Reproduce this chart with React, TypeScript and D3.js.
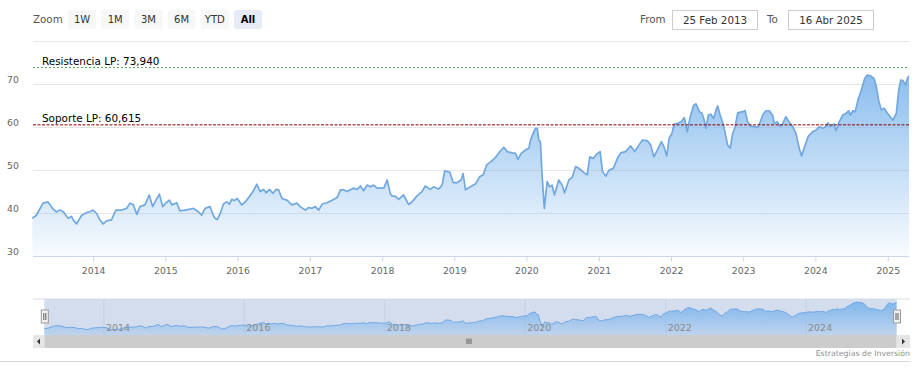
import React from "react";
import * as d3 from "d3";

const priceDates = [
"2013-02-25","2013-03-17","2013-04-20","2013-05-15","2013-06-10","2013-06-27","2013-07-14","2013-07-31","2013-08-25","2013-09-11","2013-09-19","2013-10-07","2013-11-01","2013-11-26","2013-12-13","2013-12-29",
"2014-01-16","2014-02-01","2014-02-18","2014-03-07","2014-04-01","2014-04-23","2014-05-22","2014-06-17","2014-07-03","2014-07-20","2014-08-07","2014-08-23","2014-09-17","2014-10-09","2014-10-26","2014-11-12","2014-11-29","2014-12-16",
"2015-01-02","2015-01-19","2015-01-31","2015-02-25","2015-03-13","2015-04-08","2015-05-03","2015-05-20","2015-06-14","2015-07-01","2015-07-18","2015-08-12","2015-08-29","2015-09-06","2015-09-18","2015-10-02","2015-10-19","2015-11-05","2015-11-18","2015-11-30","2015-12-12","2015-12-28",
"2016-01-20","2016-02-06","2016-02-27","2016-03-16","2016-04-05","2016-04-22","2016-05-09","2016-05-22","2016-06-08","2016-06-25","2016-07-12","2016-07-24","2016-08-10","2016-09-04","2016-09-29","2016-10-25","2016-11-10","2016-12-06","2016-12-23",
"2017-01-09","2017-01-26","2017-02-12","2017-03-01","2017-03-26","2017-04-21","2017-05-16","2017-06-02","2017-06-18","2017-07-05","2017-07-22","2017-08-08","2017-08-25","2017-09-11","2017-09-27","2017-10-14","2017-10-31","2017-11-17","2017-12-04","2017-12-21",
"2018-01-07","2018-01-24","2018-02-10","2018-02-18","2018-03-07","2018-03-23","2018-04-17","2018-05-12","2018-05-30","2018-06-24","2018-07-19","2018-08-05","2018-08-30","2018-09-16","2018-10-12","2018-10-29","2018-11-11","2018-12-07","2018-12-24",
"2019-01-13","2019-02-02","2019-02-12","2019-02-24","2019-03-21","2019-04-16","2019-05-08","2019-05-25","2019-06-11","2019-07-01","2019-07-21","2019-08-04","2019-08-20","2019-09-06","2019-09-23","2019-10-19","2019-11-04","2019-11-16","2019-12-03","2019-12-25",
"2020-01-11","2020-01-19","2020-02-02","2020-02-13","2020-02-22","2020-03-01","2020-03-09","2020-03-18","2020-03-29","2020-04-12","2020-04-25","2020-05-07","2020-05-19","2020-06-10","2020-06-27","2020-07-09","2020-07-31","2020-08-17","2020-09-03","2020-09-20","2020-10-15","2020-11-01","2020-11-14","2020-12-01","2020-12-18",
"2021-01-05","2021-01-17","2021-02-03","2021-02-19","2021-03-13","2021-04-02","2021-04-19","2021-05-14","2021-06-08","2021-06-29","2021-07-20","2021-08-07","2021-09-01","2021-09-18","2021-10-04","2021-10-22","2021-11-11","2021-11-24","2021-12-08","2021-12-20",
"2022-01-03","2022-01-15","2022-02-01","2022-02-18","2022-03-07","2022-03-21","2022-04-06","2022-04-23","2022-05-05","2022-05-22","2022-06-04","2022-06-13","2022-06-24","2022-07-06","2022-07-19","2022-08-02","2022-08-14","2022-08-22","2022-09-04","2022-09-16","2022-09-28","2022-10-12","2022-10-25","2022-11-06","2022-11-18","2022-12-02","2022-12-27",
"2023-01-08","2023-01-21","2023-02-07","2023-02-24","2023-03-13","2023-03-26","2023-04-07","2023-04-23","2023-05-10","2023-05-27","2023-06-04","2023-06-21","2023-07-04","2023-07-16","2023-08-02","2023-08-19","2023-09-05","2023-09-22","2023-10-09","2023-10-21","2023-11-03","2023-11-23","2023-12-15",
"2024-01-02","2024-01-19","2024-02-05","2024-02-22","2024-03-01","2024-03-14","2024-04-01","2024-04-12","2024-04-28","2024-05-16","2024-06-02","2024-06-14","2024-06-24","2024-07-06","2024-07-18","2024-08-01","2024-08-18","2024-09-04","2024-09-17","2024-10-04","2024-10-21","2024-11-02","2024-11-13","2024-11-27","2024-12-11","2024-12-28",
"2025-01-13","2025-01-25","2025-02-11","2025-02-23","2025-03-05","2025-03-17","2025-03-29","2025-04-08","2025-04-16"
];

const priceValues = [
38.9,39.6,42.4,42.7,41.0,40.4,40.8,40.4,38.9,39.3,38.5,37.6,39.6,40.2,40.4,40.8,
40.0,38.5,37.6,38.3,38.5,40.8,40.8,41.2,42.4,42.1,39.8,41.6,42.0,44.3,41.6,43.1,44.5,41.6,
42.5,43.1,42.0,42.5,40.6,40.8,41.0,41.2,40.4,39.6,41.2,41.6,39.6,38.9,38.6,39.9,42.2,42.7,42.2,43.3,43.0,43.5,
42.0,42.7,43.9,45.1,46.8,45.1,45.6,44.8,45.6,44.7,45.6,45.5,43.5,43.1,42.0,42.4,41.6,40.8,41.4,
41.2,41.6,40.8,42.2,42.5,43.1,43.7,45.5,45.5,45.1,45.5,45.9,45.6,46.4,45.3,46.6,46.2,46.6,45.9,45.9,
45.9,47.8,44.5,44.1,44.0,43.3,44.3,42.1,42.7,44.1,45.1,46.4,45.6,46.2,45.7,46.6,49.9,49.6,47.2,
47.2,47.8,49.3,45.5,46.2,46.9,48.6,49.0,51.3,52.0,52.8,53.6,54.6,55.4,54.4,54.1,54.0,52.6,54.0,54.8,
55.2,57.1,58.7,59.8,59.8,57.1,56.7,48.6,41.2,47.4,46.2,46.6,44.3,47.8,46.6,44.8,47.8,48.4,50.9,50.5,49.5,49.0,53.2,52.8,53.8,
54.4,49.7,48.7,50.1,50.5,52.8,54.1,54.4,55.7,54.4,55.9,57.1,56.9,55.9,53.2,54.8,56.7,55.5,53.4,57.5,
58.6,60.8,61.0,61.3,62.3,59.0,62.5,65.2,65.5,63.7,63.3,62.1,59.8,62.9,63.1,62.1,64.1,65.0,62.9,61.3,59.0,55.9,55.2,58.6,60.0,63.4,63.7,
63.9,61.3,60.3,60.2,60.0,61.3,62.9,63.9,63.9,62.9,61.0,61.3,60.3,60.8,62.5,61.3,60.3,58.7,55.2,53.4,55.2,57.9,59.0,
59.4,60.2,59.8,60.3,61.1,60.2,60.8,59.3,61.3,62.9,63.3,63.9,62.9,63.9,63.7,66.4,68.7,71.4,72.2,72.0,71.4,69.5,66.4,64.1,64.5,63.3,
62.4,61.7,63.3,68.7,71.0,70.9,69.9,71.4,72.0
];

const yTicks = [30, 40, 50, 60, 70, 80];
const xTickYears = [2014, 2015, 2016, 2017, 2018, 2019, 2020, 2021, 2022, 2023, 2024, 2025];
const navTickYears = [2014, 2016, 2018, 2020, 2022, 2024];
const rangeButtons = ["1W", "1M", "3M", "6M", "YTD", "All"];
const resistanceValue = 73.94;
const resistanceLabel = "Resistencia LP: 73,940";
const supportValue = 60.615;
const supportLabel = "Soporte LP: 60,615";
const startDate = "2013-02-25";
const endDate = "2025-04-16";
const fromText = "25 Feb 2013";
const toText = "16 Abr 2025";
const creditText = "Estrategias de Inversión";

const FONT = "'DejaVu Sans', Verdana, sans-serif";

export default function App() {
  const parse = d3.timeParse("%Y-%m-%d");
  const data = priceDates.map((d, i) => ({ date: parse(d) as Date, value: priceValues[i] }));
  const x = d3.scaleTime().domain([parse(startDate) as Date, parse(endDate) as Date]).range([32.4, 909]);
  const y = d3.scaleLinear().domain([30, 80]).range([256.5, 41.5]);
  const nx = d3.scaleTime().domain([parse(startDate) as Date, parse(endDate) as Date]).range([44.3, 896.6]);
  const ny = d3.scaleLinear().domain([31, 76.3]).range([335, 299]);

  const line = d3.line<{ date: Date; value: number }>().x(d => x(d.date)).y(d => y(d.value));
  const area = d3.area<{ date: Date; value: number }>().x(d => x(d.date)).y0(y(30)).y1(d => y(d.value));
  const nline = d3.line<{ date: Date; value: number }>().x(d => nx(d.date)).y(d => ny(d.value));
  const narea = d3.area<{ date: Date; value: number }>().x(d => nx(d.date)).y0(335).y1(d => ny(d.value));

  const plotL = 33, plotR = 909;

  return (
    <svg width={919} height={376} style={{ position: "absolute", left: 0, top: 0, background: "#fff" }} fontFamily={FONT}>
      <defs>
        <linearGradient id="mainFill" x1="0" y1="0" x2="0" y2="1">
          <stop offset="0" stopColor="#7cb5ec" stopOpacity={0.88} />
          <stop offset="1" stopColor="#7cb5ec" stopOpacity={0.05} />
        </linearGradient>
        <linearGradient id="navFill" x1="0" y1="0" x2="0" y2="1">
          <stop offset="0" stopColor="#7cb5ec" stopOpacity={0.95} />
          <stop offset="1" stopColor="#7cb5ec" stopOpacity={0.25} />
        </linearGradient>
      </defs>

      {/* range selector */}
      <text x={33} y={23} fontSize={10.3} fill="#555">Zoom</text>
      {rangeButtons.map((b, i) => {
        const bx = 68 + i * 33.2;
        const sel = b === "All";
        return (
          <g key={b}>
            <rect x={bx} y={10} width={28} height={19} rx={2} fill={sel ? "#e6ebf5" : "#f7f7f7"} />
            <text x={bx + 14} y={23} fontSize={10} textAnchor="middle" fill={sel ? "#000" : "#333"} fontWeight={sel ? "bold" : "normal"}>{b}</text>
          </g>
        );
      })}
      <text x={640} y={23} fontSize={10.3} fill="#555">From</text>
      <rect x={672.5} y={10.5} width={85} height={19} fill="#fff" stroke="#cccccc" />
      <text x={715} y={23.5} fontSize={10.3} textAnchor="middle" fill="#333">{fromText}</text>
      <text x={767} y={23} fontSize={10.3} fill="#555">To</text>
      <rect x={788.5} y={10.5} width={85} height={19} fill="#fff" stroke="#cccccc" />
      <text x={831} y={23.5} fontSize={10.3} textAnchor="middle" fill="#333">{toText}</text>

      {/* grid */}
      {yTicks.map(t => (
        <line key={t} x1={plotL} x2={plotR} y1={y(t)} y2={y(t)} stroke="#e6e6e6" strokeWidth={1} />
      ))}
      {yTicks.filter(t => t < 80).map(t => (
        <text key={"yl" + t} x={7} y={y(t) - 1.5} fontSize={9.3} fill="#666">{t}</text>
      ))}

      {/* area + line */}
      <path d={area(data) as string} fill="url(#mainFill)" />
      <path d={line(data) as string} fill="none" stroke="#72a8e0" strokeWidth={1.7} strokeLinejoin="round" />

      {/* x axis */}
      <line x1={plotL} x2={plotR} y1={y(30)} y2={y(30)} stroke="#ccd6eb" />
      {xTickYears.map(yr => {
        const px = x(new Date(yr, 0, 1));
        return (
          <g key={yr}>
            <line x1={px} x2={px} y1={y(30)} y2={y(30) + 5} stroke="#ccd6eb" />
            <text x={px} y={273.5} fontSize={9.3} textAnchor="middle" fill="#666">{yr}</text>
          </g>
        );
      })}

      {/* plot lines */}
      <line x1={plotL} x2={plotR} y1={y(resistanceValue)} y2={y(resistanceValue)} stroke="#52a852" strokeDasharray="2,2" strokeWidth={1} />
      <text x={42} y={y(resistanceValue) - 3} fontSize={10.4} fill="#000">{resistanceLabel}</text>
      <line x1={plotL} x2={plotR} y1={y(supportValue)} y2={y(supportValue)} stroke="#8b0000" strokeDasharray="3,1.5" strokeWidth={1} />
      <text x={42} y={y(supportValue) - 3} fontSize={10.4} fill="#000">{supportLabel}</text>

      {/* navigator */}
      <rect x={44.3} y={299} width={852.3} height={36} fill="rgba(102,133,194,0.28)" />
      {navTickYears.map(yr => {
        const px = nx(new Date(yr, 0, 1));
        return <line key={"ng" + yr} x1={px} x2={px} y1={299} y2={335} stroke="#c8cfe0" strokeWidth={1} />;
      })}
      <path d={narea(data) as string} fill="url(#navFill)" />
      <path d={nline(data) as string} fill="none" stroke="#6fa8e4" strokeWidth={1} />
      {navTickYears.map(yr => {
        const px = nx(new Date(yr, 0, 1));
        return <text key={"nl" + yr} x={px + 2} y={331} fontSize={9.5} fill="#8a8a8a">{yr}</text>;
      })}
      <line x1={33} x2={910} y1={299} y2={299} stroke="#d6dbe6" />
      {/* handles */}
      {[44.8, 897].map((hx, i) => (
        <g key={"h" + i}>
          <rect x={hx - 3.5} y={310} width={7} height={13} fill="#f2f2f2" stroke="#999" strokeWidth={1} />
          <line x1={hx - 1} x2={hx - 1} y1={313} y2={320} stroke="#333" strokeWidth={0.8} />
          <line x1={hx + 1} x2={hx + 1} y1={313} y2={320} stroke="#333" strokeWidth={0.8} />
        </g>
      ))}

      {/* scrollbar */}
      <rect x={33} y={335} width={877} height={13} fill="#f2f2f2" />
      <rect x={44.3} y={335} width={852.3} height={13} fill="#cccccc" />
      <rect x={33} y={335} width={11.3} height={13} fill="#e6e6e6" />
      <rect x={896.6} y={335} width={13.4} height={13} fill="#e6e6e6" />
      <path d="M40,338.5 L40,344.5 L37,341.5 Z" fill="#333" />
      <path d="M902,338.5 L902,344.5 L905,341.5 Z" fill="#333" />
      {[-2, 0, 2].map(o => (
        <line key={"g" + o} x1={469 + o} x2={469 + o} y1={338.5} y2={344} stroke="#333" strokeWidth={0.7} />
      ))}

      {/* credits & bottom line */}
      <text x={910} y={356} fontSize={7.8} textAnchor="end" fill="#909090">{creditText}</text>
      <line x1={0} x2={910} y1={361.5} y2={361.5} stroke="#d8d8d8" />
    </svg>
  );
}
